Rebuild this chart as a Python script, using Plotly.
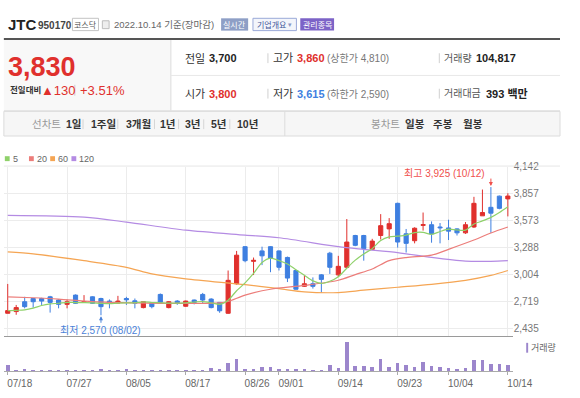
import plotly.graph_objects as go

# ---------------- data ----------------
dates = ["07/18", "07/19", "07/20", "07/21", "07/22", "07/25", "07/26", "07/27", "07/28", "07/29",
         "08/01", "08/02", "08/03", "08/04", "08/05", "08/08", "08/09", "08/10", "08/11", "08/12",
         "08/16", "08/17", "08/18", "08/19", "08/22", "08/23", "08/24", "08/25", "08/26", "08/29",
         "08/30", "08/31", "09/01", "09/02", "09/05", "09/06", "09/07", "09/08", "09/13", "09/14",
         "09/15", "09/16", "09/19", "09/20", "09/21", "09/22", "09/23", "09/26", "09/27", "09/28",
         "09/29", "09/30", "10/04", "10/05", "10/06", "10/07", "10/11", "10/12", "10/13", "10/14"]

opens = [2591, 2609, 2713, 2747, 2747, 2765, 2731, 2685, 2783, 2710,
         2765, 2747, 2720, 2699, 2747, 2723, 2651, 2696, 2790, 2651,
         2720, 2665, 2731, 2790, 2741, 2706, 2591, 2903, 3295, 3140,
         3250, 3295, 3250, 3181, 3043, 2876, 2903, 2997, 3226, 2997,
         3077, 3413, 3413, 3267, 3413, 3483, 3753, 3431, 3358, 3520,
         3527, 3503, 3493, 3483, 3441, 3503, 3621, 3711, 3829, 3800]
highs = [2901, 2679, 2765, 2750, 2755, 2775, 2740, 2737, 2790, 2783,
         2770, 2755, 2737, 2775, 2765, 2747, 2718, 2700, 2800, 2720,
         2730, 2725, 2735, 2806, 2750, 2710, 3043, 3250, 3300, 3180,
         3295, 3300, 3255, 3190, 3050, 2990, 2970, 3005, 3240, 3198,
         3587, 3420, 3420, 3378, 3639, 3597, 3760, 3482, 3500, 3656,
         3562, 3545, 3580, 3490, 3555, 3822, 3899, 3925, 3835, 3860]
lows = [2591, 2575, 2643, 2650, 2679, 2598, 2643, 2643, 2690, 2705,
        2690, 2570, 2643, 2696, 2679, 2643, 2643, 2643, 2700, 2643,
        2680, 2660, 2685, 2696, 2643, 2596, 2585, 2893, 3130, 2995,
        3100, 3025, 3043, 2921, 2840, 2870, 2852, 2810, 3007, 2973,
        3067, 3300, 3147, 3260, 3371, 3378, 3285, 3233, 3330, 3465,
        3337, 3330, 3365, 3413, 3430, 3493, 3621, 3441, 3690, 3615]
closes = [2619, 2651, 2661, 2713, 2720, 2706, 2685, 2713, 2696, 2715,
          2696, 2661, 2696, 2720, 2733, 2696, 2713, 2661, 2706, 2713,
          2703, 2720, 2706, 2731, 2651, 2617, 2939, 3205, 3147, 3150,
          3198, 3170, 3077, 2963, 2845, 2903, 2876, 2949, 3077, 3087,
          3344, 3309, 3275, 3354, 3517, 3538, 3344, 3330, 3490, 3528,
          3430, 3495, 3459, 3441, 3527, 3753, 3656, 3649, 3700, 3830]
volumes = [90000, 15000, 40000, 15000, 15000, 15000, 15000, 25000, 15000, 15000,
           15000, 40000, 25000, 25000, 40000, 25000, 15000, 15000, 15000, 15000,
           25000, 25000, 15000, 25000, 55000, 40000, 130000, 190000, 40000, 40000,
           65000, 65000, 40000, 40000, 30000, 30000, 25000, 25000, 90000, 55000,
           450000, 75000, 75000, 65000, 190000, 65000, 125000, 90000, 65000, 140000,
           75000, 65000, 55000, 40000, 55000, 175000, 175000, 115000, 115000, 104817]

ma5 = [2619, 2622, 2627, 2645, 2673, 2690, 2697, 2707, 2704, 2703,
       2701, 2696, 2693, 2698, 2701, 2701, 2712, 2705, 2702, 2698,
       2699, 2701, 2710, 2715, 2702, 2685, 2729, 2829, 2912, 3012,
       3128, 3174, 3148, 3112, 3051, 2992, 2933, 2907, 2930, 2978,
       3067, 3153, 3218, 3274, 3360, 3399, 3406, 3417, 3444, 3446,
       3424, 3455, 3480, 3471, 3470, 3535, 3567, 3605, 3657, 3718]
ma20_dates = ["07/18", "07/21", "07/26", "08/01", "08/08", "08/17", "08/23", "08/24", "08/26",
              "08/31", "09/06", "09/14", "09/16", "09/20", "09/22", "09/26", "09/29", "10/04",
              "10/07", "10/12", "10/14"]
ma20_vals = [2765, 2755, 2741, 2713, 2700, 2695, 2700, 2715, 2783,
             2845, 2885, 2940, 3000, 3059, 3147, 3180, 3205, 3267,
             3365, 3440, 3503]
ma60_dates = ["07/18", "07/21", "07/29", "08/05", "08/10", "08/17", "08/26", "09/01", "09/06",
              "09/14", "09/19", "09/23", "09/29", "10/06", "10/12", "10/14"]
ma60_vals = [3240, 3219, 3147, 3077, 3007, 2955, 2893, 2851, 2817,
             2810, 2835, 2866, 2897, 2939, 2991, 3043]
ma120_dates = ["07/18", "07/29", "08/05", "08/17", "08/26", "09/01", "09/14", "09/19", "09/23",
               "09/29", "10/06", "10/12", "10/14"]
ma120_vals = [3625, 3607, 3555, 3469, 3417, 3389, 3295, 3267, 3233,
              3181, 3142, 3140, 3147]

tick_dates = ["07/18", "07/27", "08/05", "08/17", "08/26", "09/01", "09/14", "09/23", "10/04", "10/14"]
price_ticks = [2435, 2719, 3004, 3288, 3573, 3857, 4142]

ma_names = ["5", "20", "60", "120"]

# trading-day positions on the x axis
pos = {d: i for i, d in enumerate(dates)}
xs = [pos[d] for d in dates]

# ---------------- style ----------------
W, H = 580, 398
FONT = "Liberation Sans, Noto Sans CJK KR, sans-serif"
RED = "#e0302d"
BLUE = "#3e7fe0"
C_MA5 = "#8fd16a"
C_MA20 = "#ec7d7a"
C_MA60 = "#f5a553"
C_MA120 = "#b48be3"
C_VOL = "#9c86cc"


def fx(x):
    return x / W


def fy(y):
    return 1 - y / H


fig = go.Figure()

# volume
fig.add_trace(go.Bar(x=xs, y=volumes, xaxis="x2", yaxis="y2", marker_color=C_VOL,
                     marker_line_width=0, width=0.42, hoverinfo="skip"))

# moving averages
for dlist, vals, col in [(ma120_dates, ma120_vals, C_MA120), (ma60_dates, ma60_vals, C_MA60),
                         (ma20_dates, ma20_vals, C_MA20), (dates, ma5, C_MA5)]:
    fig.add_trace(go.Scatter(x=[pos[d] for d in dlist], y=vals, mode="lines",
                             line=dict(color=col, width=1.2, shape="spline", smoothing=0.8),
                             hoverinfo="skip"))

# candles
fig.add_trace(go.Candlestick(x=xs, open=opens, high=highs, low=lows, close=closes,
                             increasing=dict(line=dict(color=RED, width=1), fillcolor=RED),
                             decreasing=dict(line=dict(color=BLUE, width=1), fillcolor=BLUE),
                             whiskerwidth=0, hoverinfo="skip"))

x0, x1 = 4, 531
xrange = [-0.456, 59.57]
tickpos = [pos[d] for d in tick_dates]
fig.update_layout(
    width=W, height=H, margin=dict(l=0, r=0, t=0, b=0),
    paper_bgcolor="white", plot_bgcolor="white", showlegend=False,
    font=dict(family=FONT, size=10, color="#333"),
    xaxis=dict(domain=[fx(x0), fx(x1)], range=xrange, type="linear", anchor="y",
               rangeslider=dict(visible=False), tickvals=tickpos, showticklabels=False,
               showgrid=True, gridcolor="#ececec", gridwidth=1, ticks="",
               showline=True, linecolor="#9a9a9a", linewidth=1, zeroline=False, fixedrange=True),
    yaxis=dict(domain=[fy(335.5), fy(163)], range=[2346, 4142], side="right", anchor="x",
               tickvals=price_ticks, ticktext=[f"{v:,}" for v in price_ticks],
               tickfont=dict(size=10, color="#777"), showgrid=True, gridcolor="#ececec",
               zeroline=False, showline=False, ticks=""),
    xaxis2=dict(domain=[fx(x0), fx(x1)], range=xrange, type="linear", anchor="y2",
                tickvals=tickpos, ticktext=tick_dates, tickfont=dict(size=10, color="#666"),
                ticks="outside", ticklen=3, tickcolor="#aaa", ticklabelshift=12,
                showgrid=False, showline=True, linecolor="#aaa", linewidth=1, zeroline=False),
    yaxis2=dict(domain=[fy(371), fy(337)], range=[0, 510000], anchor="x2", showticklabels=False,
                showgrid=False, zeroline=False, showline=False),
    bargap=0,
)

shapes = []
ann = []


def txt(x, y, s, size=11, color="#333", bold=False, anchor="left"):
    ann.append(dict(x=fx(x), y=fy(y), xref="paper", yref="paper", showarrow=False,
                    text=(f"<b>{s}</b>" if bold else s), xanchor=anchor, yanchor="middle",
                    borderpad=0, font=dict(size=size, color=color, family=FONT)))


def rect(xa, ya, xb, yb, fill=None, line=None, lw=1):
    shapes.append(dict(type="rect", xref="paper", yref="paper", x0=fx(xa), x1=fx(xb), y0=fy(yb), y1=fy(ya),
                       fillcolor=fill if fill else "rgba(0,0,0,0)",
                       line=dict(color=line if line else "rgba(0,0,0,0)", width=lw if line else 0)))


def hline(xa, xb, y, color, w=1):
    shapes.append(dict(type="line", xref="paper", yref="paper", x0=fx(xa), x1=fx(xb), y0=fy(y), y1=fy(y),
                       line=dict(color=color, width=w)))


def vline(x, ya, yb, color, w=1):
    shapes.append(dict(type="line", xref="paper", yref="paper", x0=fx(x), x1=fx(x), y0=fy(ya), y1=fy(yb),
                       line=dict(color=color, width=w)))


# ---------- header ----------
txt(7, 19, "JTC", 15, "#222", True)
txt(38, 20, "950170", 10, "#444", True)
rect(75, 12.5, 102, 25, "white", "#c4c4c4")
txt(88.5, 19, "코스닥", 8, "#555", anchor="center")
rect(106, 15, 113, 23, "#eeeeee", "#bdbdbd")
txt(117, 19, "2022.10.14 기준(장마감)", 9.5, "#666")
rect(229, 12.5, 257, 25, "#8e9fc6", None)
txt(243, 19, "실시간", 8, "white", anchor="center")
rect(262, 12.5, 307, 25, "#f3f5fb", "#9aa9d8")
txt(281, 19, "기업개요", 8, "#44589a", anchor="center")
txt(300, 19, "▾", 7, "#8a97c4", anchor="center")
rect(311, 12.5, 346, 25, "#7c63c7", None)
txt(328.5, 19, "관리종목", 8, "white", anchor="center")

hline(4, 580, 33.5, "#555555", 2)

rect(4, 34.5, 177, 106, "#f8f8f8", None)
vline(177, 34.5, 106, "#dddddd")
hline(177, 580, 70.5, "#e8e8e8")
hline(4, 580, 106.5, "#d8d8d8")

txt(7, 62, "3,830", 27, RED, True)
txt(9, 85.5, "전일대비", 8.5, "#333", True)
txt(41, 85.5, "▲130", 13, RED)
vline(77.5, 80, 91, "#cccccc")
txt(82, 85.5, "+3.51%", 13, RED)

txt(191, 53, "전일", 11, "#333")
txt(215, 53, "3,700", 11, "#222", True)
vline(277.5, 48, 58, "#d0d0d0")
txt(282, 53, "고가", 11, "#333")
txt(307, 53, "3,860", 11, RED, True)
txt(337.5, 53, "(상한가 4,810)", 10, "#777")
vline(455, 48, 58, "#d0d0d0")
txt(459, 53, "거래량", 10, "#555")
txt(492, 53, "104,817", 11, "#222", True)

txt(191, 89, "시가", 11, "#333")
txt(215, 89, "3,800", 11, RED, True)
vline(277.5, 84, 94, "#d0d0d0")
txt(282, 89, "저가", 11, "#333")
txt(307, 89, "3,615", 11, BLUE, True)
txt(337.5, 89, "(하한가 2,590)", 10, "#777")
vline(455, 84, 94, "#d0d0d0")
txt(459, 89, "거래대금", 10, "#555")
txt(502, 89, "393 백만", 11, "#222", True)

# ---------- tab bar ----------
rect(4, 107, 580, 132, "#f6f6f6", "#dcdcdc")
vline(295, 107, 132, "#dcdcdc")
tabs = [("선차트", 32, "#999", False), ("1일", 67, "#333", True), ("1주일", 93, "#333", True),
        ("3개월", 129, "#333", True), ("1년", 165, "#333", True), ("3년", 191, "#333", True),
        ("5년", 217, "#333", True), ("10년", 244, "#333", True),
        ("봉차트", 383, "#999", False), ("일봉", 418, "#333", True), ("주봉", 447, "#333", True),
        ("월봉", 478, "#333", True)]
for s, x, c, b in tabs:
    txt(x, 120, s, 10.5, c, b)
for x in [86, 122, 160, 185, 211, 238]:
    vline(x, 115, 125, "#d5d5d5")

# ---------- legend ----------
leg_colors = [C_MA5, C_MA20, C_MA60, C_MA120]
leg_x = [5, 30, 52, 74]
for name, c, x in zip(ma_names, leg_colors, leg_x):
    rect(x, 152.5, x + 5, 157.5, c, None)
    txt(x + 7, 155, name, 9, "#666")

hline(4, 580, 162.5, "#e6e6e6")

# volume legend
rect(545, 342, 547, 352, C_VOL, None)
txt(549, 347, "거래량", 9, "#666")

# ---------- high / low markers ----------
hi_val = max(highs)
hi_i = highs.index(hi_val)
lo_val = min(lows)
lo_i = lows.index(lo_val)
ann.append(dict(x=xs[hi_i], y=hi_val, xref="x", yref="y", text="", showarrow=True,
                ax=0, ay=-10, arrowhead=2, arrowsize=0.8, arrowwidth=1, arrowcolor="#f0504c", standoff=1))
ann.append(dict(x=xs[hi_i], y=hi_val, xref="x", yref="y", showarrow=False, xanchor="right",
                yanchor="middle", xshift=-4, yshift=14,
                text=f"최고 {hi_val:,} ({dates[hi_i]})", font=dict(size=10, color="#f0504c", family=FONT)))
ann.append(dict(x=xs[lo_i], y=lo_val, xref="x", yref="y", text="", showarrow=True,
                ax=0, ay=9, arrowhead=2, arrowsize=0.8, arrowwidth=1, arrowcolor="#4b82d8", standoff=1))
ann.append(dict(x=xs[lo_i], y=lo_val, xref="x", yref="y", showarrow=False, xanchor="center",
                yanchor="middle", yshift=-15,
                text=f"최저 {lo_val:,} ({dates[lo_i]})", font=dict(size=10, color="#4b82d8", family=FONT)))

fig.update_layout(shapes=shapes, annotations=ann)
fig.write_html("out.html", config={"displayModeBar": False, "staticPlot": True},
               post_script="document.body.style.margin='0';document.body.style.padding='0';"
                           "document.documentElement.style.overflow='hidden';")
